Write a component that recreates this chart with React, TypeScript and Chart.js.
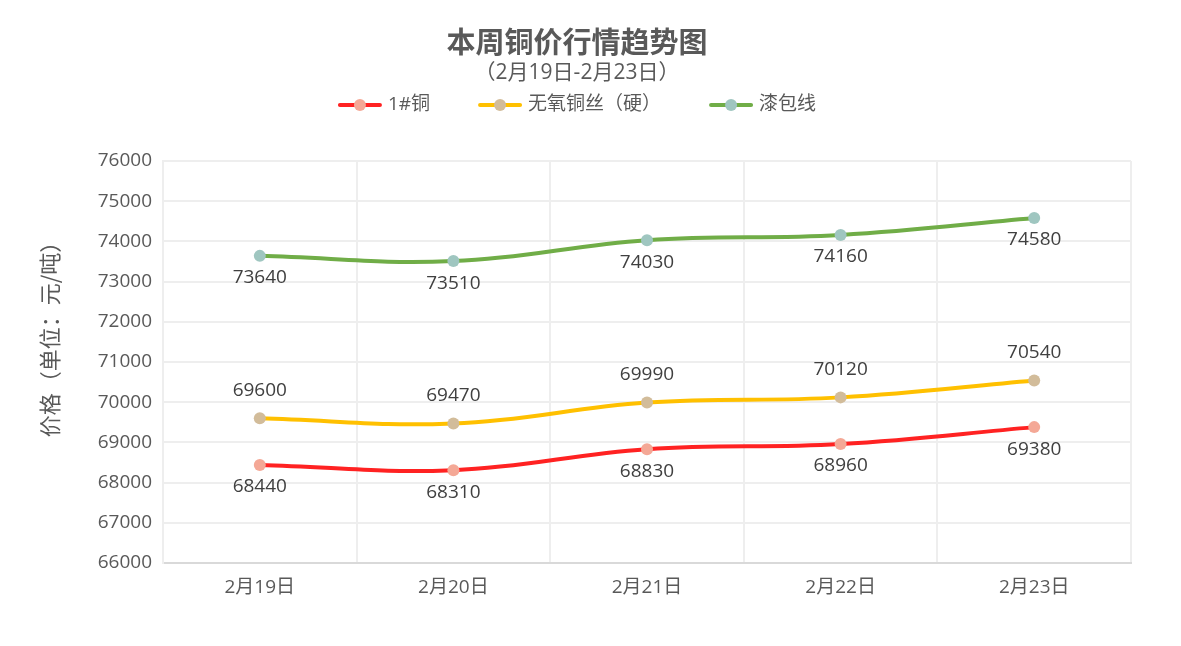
import React, { useEffect, useRef } from "react";
import { Chart, registerables } from "chart.js";
Chart.register(...registerables);

const categories = ["2月19日", "2月20日", "2月21日", "2月22日", "2月23日"];
const seriesNames = ["1#铜", "无氧铜丝（硬）", "漆包线"];
const copper1 = [68440, 68310, 68830, 68960, 69380];
const oxygenFree = [69600, 69470, 69990, 70120, 70540];
const enameled = [73640, 73510, 74030, 74160, 74580];
const yMin = 66000;
const yMax = 76000;
const yStep = 1000;
const titleText = "本周铜价行情趋势图";
const subtitleText = "（2月19日-2月23日）";
const yTitleText = "价格（单位：元/吨）";

const lineColors = ["#ff2222", "#ffc000", "#70ad47"];
const pointColors = ["#f4a896", "#d2bc9a", "#9fc6c0"];
const labelSide = ["below", "above", "below"];

const FONT = '"Open Sans", "Noto Sans CJK SC", sans-serif';
const CJK = '"Noto Sans CJK SC", sans-serif';

const decorPlugin = {
  id: "decor",
  afterDraw(chart: any) {
    const ctx = chart.ctx as CanvasRenderingContext2D;
    const cx = 569;
    ctx.save();
    // title
    ctx.fillStyle = "#595959";
    ctx.textAlign = "center";
    ctx.textBaseline = "middle";
    ctx.font = `bold 29px ${CJK}`;
    ctx.fillText(titleText, cx, 34);
    ctx.font = `21px ${FONT}`;
    ctx.fillText(subtitleText, cx, 65);

    // legend
    ctx.font = `19px ${FONT}`;
    const markerW = 44;
    const gapText = 6;
    const gapItem = 48;
    const widths = seriesNames.map((n) => markerW + gapText + ctx.measureText(n).width);
    const total = widths.reduce((a, b) => a + b, 0) + gapItem * (seriesNames.length - 1);
    let x = cx - total / 2;
    const ly = 97;
    seriesNames.forEach((n, i) => {
      ctx.strokeStyle = lineColors[i];
      ctx.lineWidth = 4;
      ctx.lineCap = "round";
      ctx.beginPath();
      ctx.moveTo(x + 2, ly);
      ctx.lineTo(x + markerW - 2, ly);
      ctx.stroke();
      ctx.fillStyle = pointColors[i];
      ctx.beginPath();
      ctx.arc(x + markerW / 2, ly, 6, 0, Math.PI * 2);
      ctx.fill();
      ctx.fillStyle = "#595959";
      ctx.textAlign = "left";
      ctx.fillText(n, x + markerW + gapText, ly);
      x += widths[i] + gapItem;
    });

    // y axis title
    ctx.save();
    ctx.translate(42, 326);
    ctx.rotate(-Math.PI / 2);
    ctx.textAlign = "center";
    ctx.fillStyle = "#595959";
    ctx.font = `22px ${CJK}`;
    ctx.fillText(yTitleText, 0, 0);
    ctx.restore();

    // data labels
    ctx.font = `19px ${FONT}`;
    ctx.fillStyle = "#404040";
    ctx.textAlign = "center";
    chart.data.datasets.forEach((ds: any, i: number) => {
      const meta = chart.getDatasetMeta(i);
      meta.data.forEach((pt: any, j: number) => {
        const off = labelSide[i] === "above" ? -28 : 22;
        ctx.fillText(String(ds.data[j]), pt.x, pt.y + off);
      });
    });
    ctx.restore();
  },
};

export default function App() {
  const ref = useRef<HTMLCanvasElement | null>(null);
  useEffect(() => {
    if (!ref.current) return;
    const series = [copper1, oxygenFree, enameled];
    const chart = new Chart(ref.current, {
      type: "line",
      data: {
        labels: categories,
        datasets: series.map((d, i) => ({
          label: seriesNames[i],
          data: d,
          borderColor: lineColors[i],
          backgroundColor: pointColors[i],
          pointBackgroundColor: pointColors[i],
          pointBorderColor: pointColors[i],
          pointBorderWidth: 0,
          pointRadius: 6,
          borderWidth: 4,
          tension: 0.4,
          fill: false,
        })),
      },
      options: {
        animation: false,
        responsive: false,
        maintainAspectRatio: false,
        layout: { padding: { top: 153, right: 42, left: 0, bottom: 0 } },
        plugins: {
          legend: { display: false },
          title: { display: false },
          tooltip: { enabled: false },
        },
        scales: {
          x: {
            offset: true,
            afterFit: (s: any) => {
              s.height = 75;
            },
            grid: { offset: true, color: "#eeeeee", lineWidth: 2, drawTicks: false },
            border: { color: "#d9d9d9", width: 2 },
            ticks: {
              color: "#595959",
              font: { family: FONT, size: 19 },
              padding: 13,
            },
          },
          y: {
            min: yMin,
            max: yMax,
            afterFit: (s: any) => {
              s.width = 155;
            },
            grid: { color: "#eeeeee", lineWidth: 2, drawTicks: false },
            border: { color: "#eeeeee", width: 2 },
            ticks: {
              stepSize: yStep,
              color: "#595959",
              font: { family: FONT, size: 19 },
              padding: 11,
              callback: (v: any) => String(v),
            },
          },
        },
      },
      plugins: [decorPlugin],
    });
    return () => chart.destroy();
  }, []);
  return (
    <div style={{ width: 1165, height: 630 }}>
      <canvas ref={ref} width={1165} height={630} style={{ display: "block" }} />
    </div>
  );
}
